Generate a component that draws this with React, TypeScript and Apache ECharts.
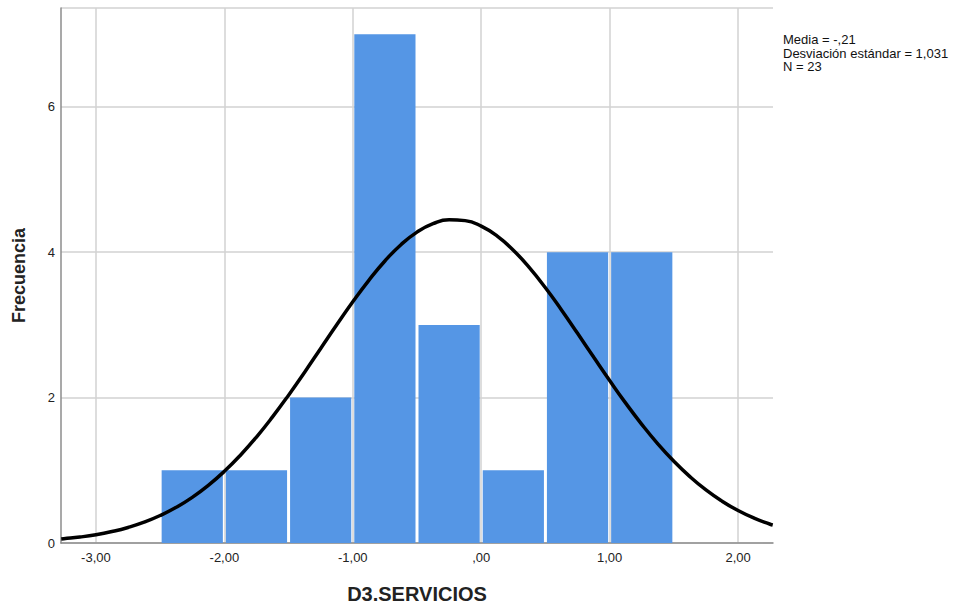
import React, { useEffect, useRef } from "react";
import * as echarts from "echarts";

const binStarts = [-2.5, -2.0, -1.5, -1.0, -0.5, 0.0, 0.5, 1.0];
const binWidth = 0.5;
const frequencies = [1, 1, 2, 7, 3, 1, 4, 4];

const xTicks = [-3, -2, -1, 0, 1, 2];

const curveX = [-3.27, -3.25, -3.125, -3.0, -2.875, -2.75, -2.625, -2.5, -2.375, -2.25, -2.125, -2.0, -1.875, -1.75, -1.625, -1.5, -1.375, -1.25, -1.125, -1.0, -0.875, -0.75, -0.625, -0.5, -0.375, -0.25, -0.125, 0.0, 0.125, 0.25, 0.375, 0.5, 0.625, 0.75, 0.875, 1.0, 1.125, 1.25, 1.375, 1.5, 1.625, 1.75, 1.875, 2.0, 2.125, 2.25, 2.27];
const curveY = [0.054, 0.058, 0.082, 0.114, 0.158, 0.214, 0.286, 0.378, 0.491, 0.628, 0.793, 0.986, 1.208, 1.458, 1.735, 2.034, 2.35, 2.676, 3.001, 3.318, 3.614, 3.88, 4.104, 4.277, 4.393, 4.447, 4.435, 4.359, 4.221, 4.028, 3.788, 3.511, 3.206, 2.885, 2.558, 2.235, 1.924, 1.633, 1.365, 1.125, 0.913, 0.73, 0.576, 0.447, 0.342, 0.258, 0.247];

const statsLines = ["Media = -,21", "Desviación estándar = 1,031", "N = 23"];

const fmt = (v: number) => {
  const s = Math.abs(v).toFixed(2).replace(".", ",");
  const t = s.startsWith("0,") ? s.slice(1) : s;
  return (v < 0 ? "-" : "") + t;
};

export default function App() {
  const ref = useRef<HTMLDivElement>(null);
  useEffect(() => {
    if (!ref.current) return;
    const chart = echarts.init(ref.current, null, { renderer: "svg" });
    const font = "'Liberation Sans', Arial, sans-serif";
    chart.setOption({
      animation: false,
      textStyle: { fontFamily: font },
      grid: { left: 61, right: 180, top: 8, bottom: 61, outerBoundsMode: "none", containLabel: false },
      xAxis: {
        type: "value",
        min: -3.272,
        max: 2.272,
        name: "D3.SERVICIOS",
        nameLocation: "middle",
        nameGap: 41,
        nameTextStyle: { fontSize: 20, fontWeight: "bold", color: "#222", fontFamily: font },
        axisLine: { show: true, onZero: false, lineStyle: { color: "#8c8c8c", width: 1.5 } },
        axisTick: { show: false, customValues: xTicks },
        axisLabel: {
          fontSize: 13,
          color: "#222",
          margin: 8,
          fontFamily: font,
          customValues: xTicks,
          formatter: (v: number) => fmt(v),
        },
        splitLine: { show: true, lineStyle: { color: "#d2d2d2", width: 1.5 } },
      },
      yAxis: {
        type: "value",
        min: 0,
        max: 7.36,
        interval: 2,
        name: "Frecuencia",
        nameLocation: "middle",
        nameGap: 33,
        nameRotate: 90,
        nameTextStyle: { fontSize: 18, fontWeight: "bold", color: "#222", fontFamily: font },
        axisLine: { show: true, onZero: false, lineStyle: { color: "#8c8c8c", width: 1.5 } },
        axisTick: { show: false },
        axisLabel: {
          showMaxLabel: false,
          fontSize: 13,
          color: "#222",
          margin: 6,
          fontFamily: font,
          formatter: (v: number) => String(v),
        },
        splitLine: { show: true, lineStyle: { color: "#d2d2d2", width: 1.5 } },
      },
      series: [
        {
          type: "custom",
          data: binStarts.map((s, i) => [s, s + binWidth, frequencies[i]]),
          encode: { x: [0, 1], y: 2 },
          renderItem: (params: any, api: any) => {
            const p0 = api.coord([api.value(0), api.value(2)]);
            const p1 = api.coord([api.value(1), 0]);
            return {
              type: "rect",
              shape: { x: p0[0] + 1.5, y: p0[1], width: p1[0] - p0[0] - 3, height: p1[1] - p0[1] },
              style: { fill: "#5596e5" },
            };
          },
          z: 2,
        },
        {
          type: "line",
          data: curveX.map((x, i) => [x, curveY[i]]),
          smooth: true,
          showSymbol: false,
          lineStyle: { color: "#000", width: 3.5 },
          z: 3,
        },
      ],
      graphic: [
        {
          type: "text",
          left: 783,
          top: 33,
          style: {
            text: statsLines.join("\n"),
            fontSize: 13,
            lineHeight: 13.5,
            fill: "#111",
            fontFamily: font,
          },
        },
      ],
    });
    return () => chart.dispose();
  }, []);
  return <div ref={ref} style={{ width: 953, height: 604, position: "absolute", left: 0, top: 0 }} />;
}
